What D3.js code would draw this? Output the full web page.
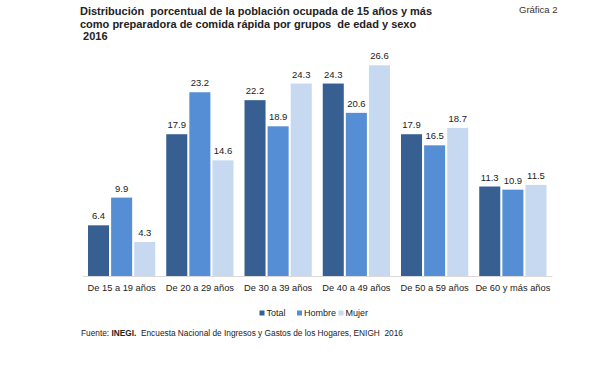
<!DOCTYPE html>
<html>
<head>
<meta charset="utf-8">
<script src="https://cdn.jsdelivr.net/npm/d3@7"></script>
<style>
  body { margin: 0; background: #fff; }
  svg { display: block; font-family: "Liberation Sans", Arial, sans-serif; }
</style>
</head>
<body>
<svg id="chart"></svg>
<script>
const categories = ['De 15 a 19 años', 'De 20 a 29 años', 'De 30 a 39 años', 'De 40 a 49 años', 'De 50 a 59 años', 'De 60 y más años'];
const seriesNames = ['Total', 'Hombre', 'Mujer'];
const total = [6.4, 17.9, 22.2, 24.3, 17.9, 11.3];
const hombre = [9.9, 23.2, 18.9, 20.6, 16.5, 10.9];
const mujer = [4.3, 14.6, 24.3, 26.6, 18.7, 11.5];
const colors = ['#375f92', '#558ed5', '#c6d9f1'];
const titleLines = [
  'Distribución  porcentual de la población ocupada de 15 años y más',
  'como preparadora de comida rápida por grupos  de edad y sexo',
  ' 2016'
];

const width = 607, height = 385;
const svg = d3.select('#chart').attr('width', width).attr('height', height);

const values = [total, hombre, mujer];
const data = categories.map((c, i) => ({
  cat: c,
  vals: seriesNames.map((s, j) => ({ series: s, value: values[j][i] }))
}));

// Scales
const x = d3.scaleBand().domain(categories).range([82.5, 552]);
const xInner = d3.scaleBand().domain(seriesNames)
  .range([5.5, x.bandwidth() - 5.5]).paddingInner(0.09);
const y = d3.scaleLinear().domain([0, 30]).range([276, 38.4]);
const color = d3.scaleOrdinal().domain(seriesNames).range(colors);

// Title
const title = svg.append('text')
  .attr('x', 80)
  .attr('y', 15)
  .attr('font-size', 11)
  .attr('font-weight', 'bold')
  .attr('fill', '#222');
title.selectAll('tspan')
  .data(titleLines)
  .enter()
  .append('tspan')
    .attr('x', 80)
    .attr('dy', (d, i) => i === 0 ? 0 : 12.5)
    .attr('xml:space', 'preserve')
    .style('white-space', 'pre')
    .text(d => d);

svg.append('text')
  .attr('x', 519)
  .attr('y', 13)
  .attr('font-size', 9.5)
  .attr('fill', '#333')
  .text('Gráfica 2');

// Bars
const groups = svg.selectAll('.grp')
  .data(data)
  .enter()
  .append('g')
    .attr('transform', d => `translate(${x(d.cat)},0)`);

groups.selectAll('rect')
  .data(d => d.vals)
  .enter()
  .append('rect')
    .attr('x', d => xInner(d.series))
    .attr('y', d => y(d.value))
    .attr('width', xInner.bandwidth())
    .attr('height', d => y(0) - y(d.value))
    .attr('fill', d => color(d.series));

groups.selectAll('.lbl')
  .data(d => d.vals)
  .enter()
  .append('text')
    .attr('x', d => xInner(d.series) + xInner.bandwidth() / 2)
    .attr('y', d => y(d.value) - 6)
    .attr('text-anchor', 'middle')
    .attr('font-size', 9.5)
    .attr('fill', '#222')
    .text(d => d.value.toFixed(1));

// X axis
const xAxis = svg.append('g')
  .attr('transform', `translate(0,${y(0)})`)
  .call(d3.axisBottom(x).tickSize(0).tickPadding(8));
xAxis.select('.domain').attr('stroke', '#d9d9d9');
xAxis.selectAll('text')
  .attr('font-size', 9.3)
  .attr('font-family', 'inherit')
  .attr('fill', '#222');

// Legend
const legendX = [262, 299.5, 341];
const legend = svg.append('g').attr('transform', 'translate(0,313)');
seriesNames.forEach((s, i) => {
  legend.append('rect')
    .attr('x', legendX[i] - 2.5)
    .attr('y', -2.5)
    .attr('width', 5)
    .attr('height', 5)
    .attr('fill', color(s));
  legend.append('text')
    .attr('x', legendX[i] + 4.5)
    .attr('y', 3.3)
    .attr('font-size', 9)
    .attr('fill', '#222')
    .text(s);
});

// Source
const src = svg.append('text')
  .attr('x', 81)
  .attr('y', 336)
  .attr('font-size', 8.3)
  .attr('fill', '#222');
src.append('tspan').text('Fuente: ');
src.append('tspan').attr('font-weight', 'bold').text('INEGI.');
src.append('tspan').attr('xml:space', 'preserve').style('white-space', 'pre')
  .text('  Encuesta Nacional de Ingresos y Gastos de los Hogares, ENIGH  2016');
</script>
</body>
</html>
